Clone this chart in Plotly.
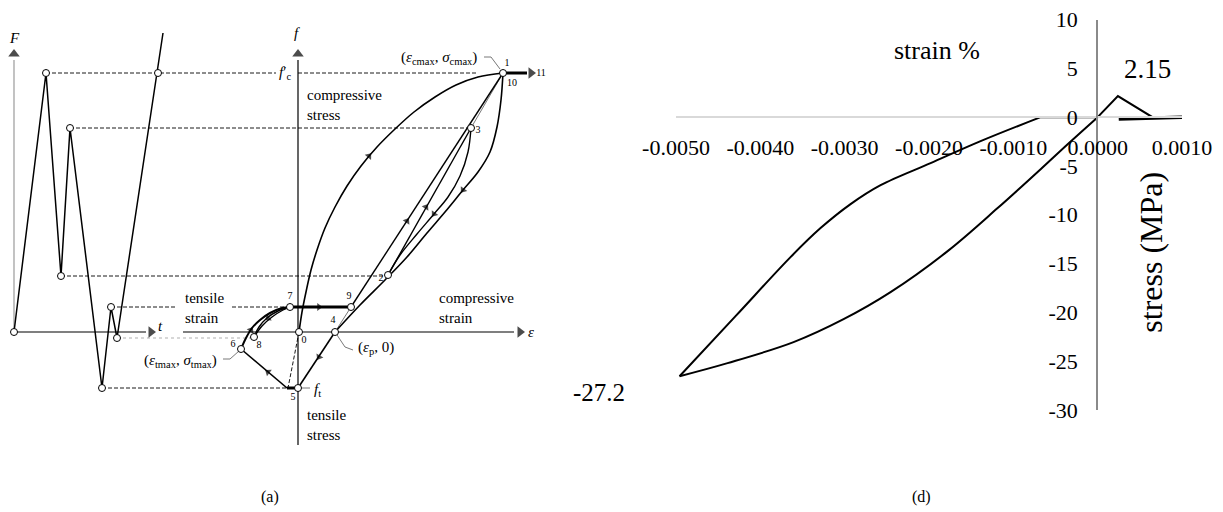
import plotly.graph_objects as go

# ---------------- panel (d): stress-strain loop ----------------
strain_upper = [-0.004958, -0.004294, -0.003642, -0.003286, -0.002930, -0.002574, -0.001981, -0.001388, -0.000676]
stress_upper = [-26.54, -20.39, -14.34, -11.37, -8.91, -6.97, -4.71, -2.46, 0.0]
strain_flat = [-0.000676, 0.0]
stress_flat = [0.0, 0.0]
strain_lower = [-0.004958, -0.004389, -0.003606, -0.003013, -0.002456, -0.001779, -0.001186, -0.000676, -0.000356, 0.0]
stress_lower = [-26.54, -25.2, -23.05, -20.7, -17.93, -13.73, -9.32, -5.33, -2.77, 0.0]
strain_tension = [0.0, 0.00024, 0.00065, 0.0010]
stress_tension = [0.0, 2.15, 0.0, 0.0]
strain_tail = [0.00025, 0.00065, 0.0010]
stress_tail = [-0.2, -0.1, 0.0]

x_ticks = [-0.005, -0.004, -0.003, -0.002, -0.001, 0.0, 0.001]
x_ticktext = ["-0.0050", "-0.0040", "-0.0030", "-0.0020", "-0.0010", "0.0000", "0.0010"]
y_ticks = [-30, -25, -20, -15, -10, -5, 0, 5, 10]
y_ticktext = ["-30", "-25", "-20", "-15", "-10", "-5", "0", "5", "10"]

# ---------------- panel (a): schematic, in drawing units ----------------
# force history F(t)
ft_x = [14, 46, 61, 70, 102, 111, 117, 163]
ft_y = [332, 73, 276, 128, 388, 307, 338, 33]
ft_open_x = [14, 46, 61, 70, 102, 111, 117, 158]
ft_open_y = [332, 73, 276, 128, 388, 307, 338, 73]

# stress-strain path
env_x = [299, 302, 306, 311, 317, 325, 335, 347, 361, 377, 395, 414, 435, 456, 478, 503]
env_y = [332, 312, 292, 270, 250, 228, 207, 186, 166, 147, 129, 112, 97, 85, 77, 73]
unload_x = [503, 501, 497, 490, 478, 463, 445, 427, 407, 385, 360, 335]
unload_y = [73, 100, 127, 152, 172, 190, 212, 233, 257, 280, 305, 332]
drop_x = [335, 298]
drop_y = [332, 388]
reload9_x = [351, 503]
reload9_y = [307, 73]
reload2_x = [388, 471]
reload2_y = [275, 128]
partial_x = [471, 468, 460, 448, 434, 417, 400, 388]
partial_y = [128, 152, 176, 197, 214, 234, 255, 275]
soft_x = [287, 241]
soft_y = [388, 349]
stub_x = [287, 298]
stub_y = [388, 388]
loop_out_x = [241, 246, 252, 260, 270, 282, 290]
loop_out_y = [349, 338, 328, 320, 313, 308, 307]
loop_mid_x = [290, 278, 267, 259, 254]
loop_mid_y = [307, 311, 318, 327, 337]
loop_in_x = [254, 262, 272, 283, 290]
loop_in_y = [337, 326, 317, 310, 307]
close_x = [290, 351]
close_y = [307, 307]
tip_x = [503, 527]
tip_y = [73, 73]

open_x = [299, 503, 388, 471, 335, 298, 241, 290, 254, 351]
open_y = [332, 73, 275, 128, 332, 388, 349, 307, 337, 307]
num_text = ["0", "1", "10", "2", "3", "4", "5", "6", "7", "8", "9", "11"]
num_x = [304, 507, 512, 381, 478, 333, 293, 233, 290, 259, 349, 541]
num_y = [340, 63, 83, 278, 130, 320, 397, 344, 296, 345, 296, 73]

# guide lines
dash_lines = [
    ([46, 276], [73, 73]), ([298, 478], [73, 73]),
    ([70, 468], [128, 128]), ([61, 384], [276, 276]),
    ([111, 175], [307, 307]), ([232, 287], [307, 307]),
    ([102, 295], [388, 388]), ([299, 288], [332, 388]),
]
dot_line = ([117, 252], [338, 338])
thin_lines = [
    ([471, 503], [128, 73]), ([335, 351], [332, 307]),
    ([484, 491, 500], [57, 57, 69]), ([223, 230, 239], [359, 359, 351]),
    ([337, 345, 353], [335, 347, 350]), ([302, 310], [388, 388]),
]
axes_lines = [
    ([14, 146], [332, 332], "black"), ([183, 514], [332, 332], "black"),
    ([298, 298], [445, 60], "black"), ([14, 14], [332, 60], "#9a9a9a"),
]
# arrow heads as (tail, head) pairs
arrow_x = [14, 14, 144, 151, 513, 520, 298, 298, 524, 531,
           365, 369, 466, 463, 405, 407, 424, 426, 437, 434,
           322, 319, 272, 268, 249, 251, 271, 268, 314, 319]
arrow_y = [62, 54, 332, 332, 332, 332, 62, 54, 73, 73,
           161, 156, 186, 190, 224, 221, 210, 207, 210, 214,
           352, 357, 375, 372, 333, 330, 316, 318, 307, 307]
arrow_size = [0, 10, 0, 10, 0, 10, 0, 10, 0, 10,
              0, 7, 0, 7, 0, 7, 0, 7, 0, 7,
              0, 7, 0, 7, 0, 7, 0, 7, 0, 7]

label_text = ["<i>F</i>", "<i>f</i>", "<i>t</i>", "<i>ε</i>", "<i>f</i>′<sub>c</sub>",
              "<i>f</i><sub>t</sub>", "(<i>ε</i><sub>cmax</sub>, <i>σ</i><sub>cmax</sub>)",
              "(<i>ε</i><sub>tmax</sub>, <i>σ</i><sub>tmax</sub>)", "(<i>ε</i><sub>p</sub>, 0)",
              "compressive<br>stress", "tensile<br>strain", "compressive<br>strain", "tensile<br>stress"]
label_x = [14, 297, 160, 531, 285, 312, 439, 180, 356, 305, 183, 437, 305]
label_y = [38, 33, 326, 332, 73, 390, 58, 361, 348, 105, 308, 308, 425]
label_anchor = ["center", "center", "center", "center", "center", "left", "center",
                "center", "left", "left", "left", "left", "left"]

SERIF = "Liberation Serif"
# the page body adds an 8 px margin, so the figure is drawn 8 px smaller each way
W, H, OFF = 1215, 504, 8


def px(x):
    return (x - OFF) / W


def py(y):
    return (H + OFF - y) / H


fig = go.Figure()


def sk(xs, ys, width=1.4, dash="solid", color="black", shape="linear"):
    fig.add_trace(go.Scatter(x=xs, y=ys, mode="lines", xaxis="x2", yaxis="y2",
                             line=dict(color=color, width=width, dash=dash, shape=shape),
                             hoverinfo="skip", showlegend=False))


for xs, ys in dash_lines:
    sk(xs, ys, width=0.9, dash="4px,2px")
sk(dot_line[0], dot_line[1], width=1.2, dash="dot", color="#b0b0b0")
for xs, ys in thin_lines:
    sk(xs, ys, width=0.8, color="#555555")
for xs, ys, c in axes_lines:
    sk(xs, ys, width=1.2, color=c)

sk(ft_x, ft_y, width=1.5)
sk(env_x, env_y, width=1.6, shape="spline")
sk(unload_x, unload_y, width=1.6, shape="spline")
sk(drop_x, drop_y, width=1.6)
sk(reload9_x, reload9_y, width=1.4)
sk(reload2_x, reload2_y, width=1.4)
sk(partial_x, partial_y, width=1.4, shape="spline")
sk(soft_x, soft_y, width=1.6)
sk(stub_x, stub_y, width=3)
sk(loop_out_x, loop_out_y, width=2, shape="spline")
sk(loop_mid_x, loop_mid_y, width=1.4, shape="spline")
sk(loop_in_x, loop_in_y, width=1.4, shape="spline")
sk(close_x, close_y, width=3)
sk(tip_x, tip_y, width=3)

fig.add_trace(go.Scatter(x=arrow_x, y=arrow_y, mode="markers", xaxis="x2", yaxis="y2",
                         marker=dict(symbol="triangle-up", angleref="previous", size=arrow_size,
                                     color="black", line=dict(width=0)),
                         hoverinfo="skip", showlegend=False))
fig.add_trace(go.Scatter(x=ft_open_x + open_x, y=ft_open_y + open_y, mode="markers",
                         xaxis="x2", yaxis="y2",
                         marker=dict(symbol="circle", size=7, color="white",
                                     line=dict(color="black", width=1)),
                         hoverinfo="skip", showlegend=False))
fig.add_trace(go.Scatter(x=num_x, y=num_y, mode="text", text=num_text, xaxis="x2", yaxis="y2",
                         textfont=dict(family=SERIF, size=10, color="black"),
                         hoverinfo="skip", showlegend=False))

for t, x, y, a in zip(label_text, label_x, label_y, label_anchor):
    fig.add_annotation(x=x, y=y, xref="x2", yref="y2", text=t, showarrow=False,
                       xanchor=a, align="left", yanchor="middle",
                       font=dict(family=SERIF, size=15, color="black"))

# ---- panel (d) traces ----
for xs, ys, w, sh in [(strain_upper, stress_upper, 2, "spline"),
                      (strain_flat, stress_flat, 2, "linear"),
                      (strain_lower, stress_lower, 2, "spline"),
                      (strain_tension, stress_tension, 2, "linear"),
                      (strain_tail, stress_tail, 3.5, "linear")]:
    fig.add_trace(go.Scatter(x=xs, y=ys, mode="lines", line=dict(color="black", width=w, shape=sh),
                             hoverinfo="skip", showlegend=False))

fig.add_annotation(x=-0.00191, y=6.8, text="strain %", showarrow=False,
                   xanchor="center", yanchor="middle",
                   font=dict(family=SERIF, size=26, color="black"))
fig.add_annotation(x=0.00059, y=4.9, text="2.15", showarrow=False,
                   xanchor="center", yanchor="middle",
                   font=dict(family=SERIF, size=27, color="black"))
fig.add_annotation(x=0.00063, y=-13.8, text="stress (MPa)", showarrow=False, textangle=-90,
                   xanchor="center", yanchor="middle",
                   font=dict(family=SERIF, size=32, color="black"))
fig.add_annotation(x=px(599), y=py(392), xref="paper", yref="paper", text="-27.2",
                   xanchor="center", yanchor="middle",
                   showarrow=False, font=dict(family=SERIF, size=25, color="black"))

fig.add_annotation(x=px(270), y=py(497), xref="paper", yref="paper", text="(a)",
                   xanchor="center", yanchor="middle",
                   showarrow=False, font=dict(family=SERIF, size=16, color="black"))
fig.add_annotation(x=px(922), y=py(497), xref="paper", yref="paper", text="(d)",
                   xanchor="center", yanchor="middle",
                   showarrow=False, font=dict(family=SERIF, size=16, color="black"))

fig.update_layout(
    width=W, height=H, margin=dict(l=0, r=0, t=0, b=0, pad=0, autoexpand=False),
    paper_bgcolor="white", plot_bgcolor="rgba(0,0,0,0)",
    font=dict(family=SERIF, color="black"),
    xaxis=dict(domain=[px(676), px(1182)], range=[-0.005, 0.001], anchor="free",
               position=py(117), showline=True, linecolor="#d9d9d9", linewidth=2,
               tickvals=x_ticks, ticktext=x_ticktext, ticks="", showgrid=False, zeroline=False,
               automargin=False, ticklabeloverflow="allow",
               ticklabelstandoff=11, tickfont=dict(family=SERIF, size=22, color="black")),
    yaxis=dict(domain=[py(410), py(19.5)], range=[-30, 10], anchor="free",
               position=px(1097), showline=True, linecolor="#8a8a8a", linewidth=1.5,
               tickvals=y_ticks, ticktext=y_ticktext, ticks="", showgrid=False, zeroline=False,
               automargin=False, ticklabeloverflow="allow",
               ticklabelstandoff=14, tickfont=dict(family=SERIF, size=22, color="black")),
    xaxis2=dict(domain=[0, 1], range=[OFF, W + OFF], anchor="y2", visible=False, automargin=False),
    yaxis2=dict(domain=[0, 1], range=[H + OFF, OFF], anchor="x2", visible=False, automargin=False),
)

fig.write_html("out.html")
